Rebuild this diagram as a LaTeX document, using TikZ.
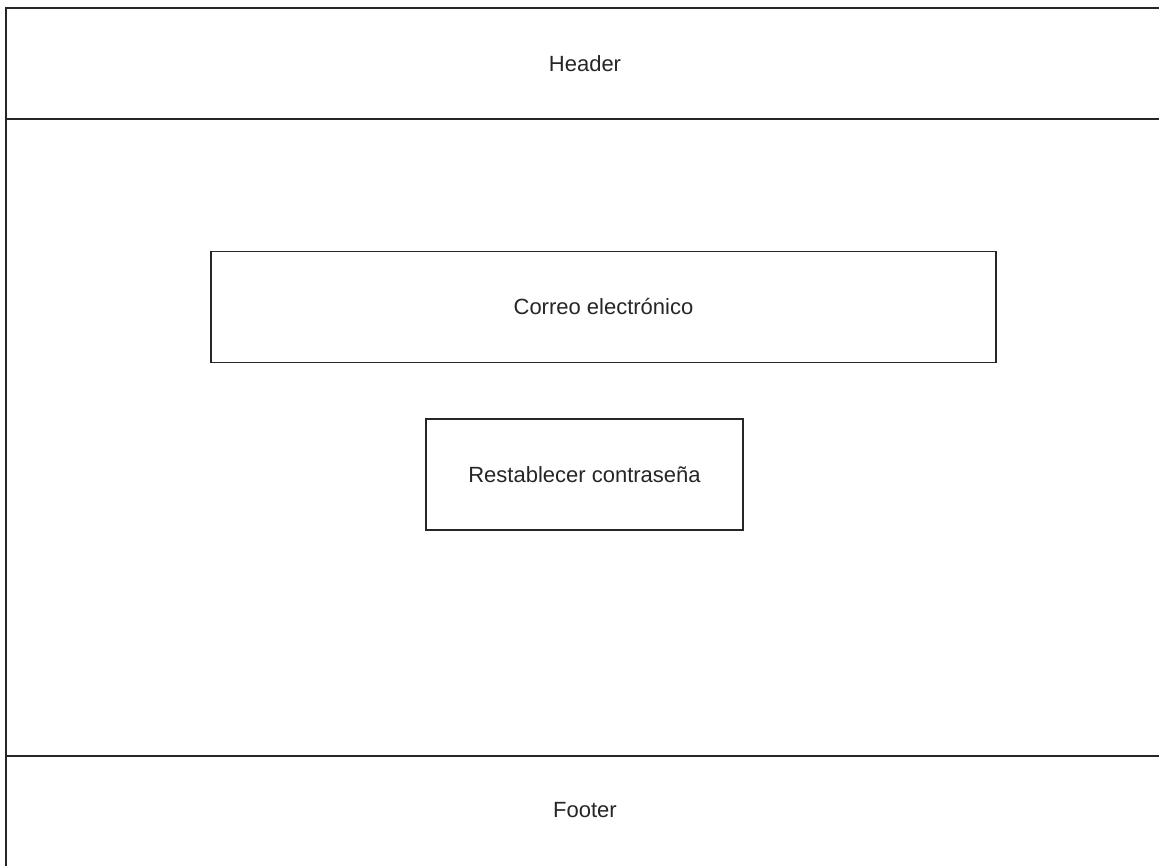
\documentclass[tikz,border=0pt]{standalone}
\usepackage{fontspec}
\setmainfont{Liberation Sans}
\begin{document}
\begin{tikzpicture}[x=1pt,y=-1pt,
  frame/.style={draw=black!85,line width=1.8pt},
  field/.style={draw=black!85,line width=1.8pt,fill=white,inner sep=0pt},
  label/.style={font=\fontsize{22}{26}\selectfont,text=black!85}]
  \useasboundingbox (0,0) rectangle (1159,865);
  \fill[white] (0,0) rectangle (1159,865);
  % page frame and its bands
  \coordinate (tl) at (6,8);
  \coordinate (tr) at (1165,8);
  \coordinate (bl) at (6,870);
  \coordinate (hl) at (6,119);
  \coordinate (hr) at (1165,119);
  \coordinate (fl) at (6,756);
  \coordinate (fr) at (1165,756);
  \draw[frame] (bl) -- (tl) -- (tr);
  \draw[frame] (hl) -- (hr);
  \draw[frame] (fl) -- (fr);
  % texts of the bands
  \node[label] (header) at (585,63.5) {Header};
  \node[label] (footer) at (585,810) {Footer};
  % form fields
  \node[field,minimum width=785pt,minimum height=111pt] (email) at (603.5,307) {};
  \node[label] (emailtxt) at (email.center) {Correo electrónico};
  \node[field,minimum width=317pt,minimum height=111pt] (reset) at (584.5,474.5) {};
  \node[label] (resettxt) at (reset.center) {Restablecer contraseña};
\end{tikzpicture}
\end{document}
